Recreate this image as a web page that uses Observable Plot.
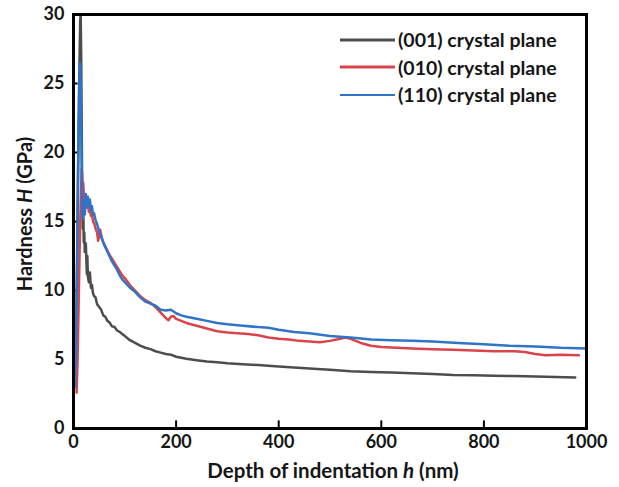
<!DOCTYPE html>
<html>
<head>
<meta charset="utf-8">
<script src="https://cdn.jsdelivr.net/npm/d3@7"></script>
<script src="https://cdn.jsdelivr.net/npm/@observablehq/plot@0.6"></script>
<style>
  html, body { margin: 0; padding: 0; background: #fff; }
  #wrap { position: relative; width: 619px; height: 487px; font-family: Lato, "Open Sans", sans-serif; font-weight: 700; color: #161616; }
  #ylab { position: absolute; left: 24px; top: 214px; transform: translate(-50%, -50%) rotate(-90deg); white-space: nowrap; font-size: 20px; }
  #xlab { position: absolute; left: 333px; top: 470px; transform: translate(-50%, -50%); white-space: nowrap; font-size: 20.5px; }
  #legend { position: absolute; left: 340px; top: 26px; font-size: 19.5px; }
  .row { display: flex; align-items: center; height: 27.5px; }
  .row svg { margin-right: 3px; }
</style>
</head>
<body>
<div id="wrap">
  <div id="chart"></div>
  <div id="ylab">Hardness <i>H</i> (GPa)</div>
  <div id="xlab">Depth of indentation <i>h</i> (nm)</div>
  <div id="legend"></div>
</div>
<script>
const seriesNames = ["(001) crystal plane", "(010) crystal plane", "(110) crystal plane"];
const seriesColors = ["#4d4d4d", "#d9444b", "#3074c8"];

const h001 = [5, 7, 9, 11, 13, 14, 15, 16, 17, 18, 19, 20, 21, 22, 24, 26, 27, 28, 30, 32, 34, 36, 38, 40, 43, 46, 50, 54, 58, 62, 66, 70, 75, 80, 85, 90, 95, 100, 110, 120, 130, 140, 150, 160, 170, 180, 190, 200, 220, 240, 260, 280, 300, 330, 360, 400, 430, 460, 500, 540, 580, 620, 660, 700, 740, 780, 820, 860, 900, 940, 978];
const H001 = [6, 12, 19, 25, 29.5, 30, 27, 22, 17, 14.5, 16, 13.5, 14.2, 12.8, 13.4, 11.2, 12.5, 11.0, 10.6, 11.3, 10.2, 10.4, 9.8, 9.6, 9.5, 9.0, 8.8, 8.6, 8.2, 8.1, 7.8, 7.7, 7.4, 7.35, 7.1, 7.0, 6.85, 6.7, 6.4, 6.2, 6.0, 5.85, 5.75, 5.6, 5.5, 5.4, 5.35, 5.2, 5.05, 4.95, 4.85, 4.8, 4.72, 4.65, 4.6, 4.5, 4.42, 4.35, 4.25, 4.15, 4.1, 4.05, 4.0, 3.95, 3.88, 3.85, 3.82, 3.8, 3.76, 3.74, 3.7];

const h010 = [6, 8, 10, 12, 14, 16, 17, 18, 19, 20, 22, 24, 26, 28, 30, 32, 34, 36, 38, 40, 43, 46, 48, 50, 52, 55, 58, 62, 66, 70, 75, 80, 85, 90, 95, 100, 110, 120, 130, 140, 150, 160, 170, 180, 185, 190, 195, 200, 210, 220, 240, 260, 280, 300, 320, 340, 360, 380, 400, 420, 440, 460, 480, 500, 520, 530, 540, 560, 580, 600, 630, 660, 700, 740, 780, 820, 860, 880, 900, 920, 950, 985];
const H010 = [2.6, 5, 9, 13, 16.5, 18.8, 18.2, 17.2, 17.8, 17.0, 16.3, 16.8, 16.0, 16.4, 15.7, 16.1, 15.4, 15.6, 15.0, 14.9, 14.5, 14.2, 13.6, 13.9, 14.4, 13.8, 13.5, 13.2, 12.9, 12.6, 12.3, 12.0, 11.7, 11.4, 11.1, 10.9, 10.4, 10.0, 9.6, 9.3, 9.1, 8.8, 8.4, 8.0, 7.85, 8.1, 8.15, 7.95, 7.8, 7.65, 7.45, 7.25, 7.05, 6.95, 6.9, 6.85, 6.75, 6.6, 6.5, 6.45, 6.35, 6.3, 6.25, 6.35, 6.5, 6.6, 6.5, 6.2, 6.0, 5.9, 5.85, 5.8, 5.75, 5.7, 5.65, 5.6, 5.6, 5.55, 5.4, 5.3, 5.35, 5.3];

const h110 = [3, 5, 7, 9, 11, 12, 13, 14, 15, 16, 17, 18, 19, 20, 22, 24, 26, 28, 30, 32, 34, 36, 38, 40, 43, 46, 50, 55, 60, 65, 70, 75, 80, 85, 90, 95, 100, 110, 120, 130, 140, 150, 160, 170, 180, 190, 200, 210, 220, 240, 260, 280, 300, 330, 360, 380, 400, 430, 460, 500, 540, 580, 620, 660, 700, 750, 800, 850, 900, 950, 1000];
const H110 = [3, 6, 12, 19, 24, 26.5, 26.2, 25, 22, 19, 16, 15.2, 15.8, 16.5, 15.5, 17, 16.2, 16.8, 16.0, 16.6, 15.8, 16.1, 15.5, 15.6, 15.1, 14.8, 14.3, 13.8, 13.3, 12.9, 12.5, 12.1, 11.8, 11.5, 11.1, 10.8, 10.6, 10.2, 9.9, 9.5, 9.2, 9.05, 8.9, 8.6, 8.55, 8.6, 8.35, 8.2, 8.1, 7.95, 7.8, 7.65, 7.55, 7.45, 7.35, 7.3, 7.15, 7.0, 6.9, 6.7, 6.6, 6.45, 6.4, 6.35, 6.3, 6.2, 6.1, 6.0, 5.95, 5.85, 5.8];

const xTicks = [0, 200, 400, 600, 800, 1000];
const yTicks = [0, 5, 10, 15, 20, 25, 30];

const rows = [];
[[h001, H001], [h010, H010], [h110, H110]].forEach(([hs, Hs], i) => {
  hs.forEach((h, j) => rows.push({series: seriesNames[i], h, H: Hs[j]}));
});

const chart = Plot.plot({
  width: 619,
  height: 487,
  marginLeft: 73,
  marginRight: 33,
  marginTop: 14,
  marginBottom: 59,
  style: {fontFamily: "Lato, 'Open Sans', sans-serif", fontWeight: 700, fontSize: "18px", color: "#161616", background: "#fff"},
  x: {domain: [0, 1000]},
  y: {domain: [0, 30]},
  color: {domain: seriesNames, range: seriesColors},
  marks: [
    Plot.axisX(xTicks, {tickSize: 0, tickPadding: 7, label: null, fontSize: 18, fontWeight: 700, tickFormat: d => String(d)}),
    Plot.axisY(yTicks, {tickSize: 0, tickPadding: 9, label: null, fontSize: 18, fontWeight: 700, tickFormat: d => String(d)}),
    Plot.ruleX(xTicks.slice(1, -1), {x: d => d, y1: 0, y2: 0.55, stroke: "black", strokeWidth: 2}),
    Plot.ruleY(yTicks.slice(1, -1), {y: d => d, x1: 0, x2: 9, stroke: "black", strokeWidth: 2}),
    Plot.line(rows, {x: "h", y: "H", z: "series", stroke: "series", strokeWidth: 2.5, curve: "linear"}),
    Plot.frame({stroke: "black", strokeWidth: 3})
  ]
});
document.getElementById("chart").appendChild(chart);

const legend = document.getElementById("legend");
seriesNames.forEach((name, i) => {
  const row = document.createElement("div");
  row.className = "row";
  row.innerHTML = `<svg width="55" height="6"><line x1="0" y1="3" x2="55" y2="3" stroke="${seriesColors[i]}" stroke-width="${i === 2 ? 2.2 : 3}"/></svg><span>${name}</span>`;
  legend.appendChild(row);
});
</script>
</body>
</html>
